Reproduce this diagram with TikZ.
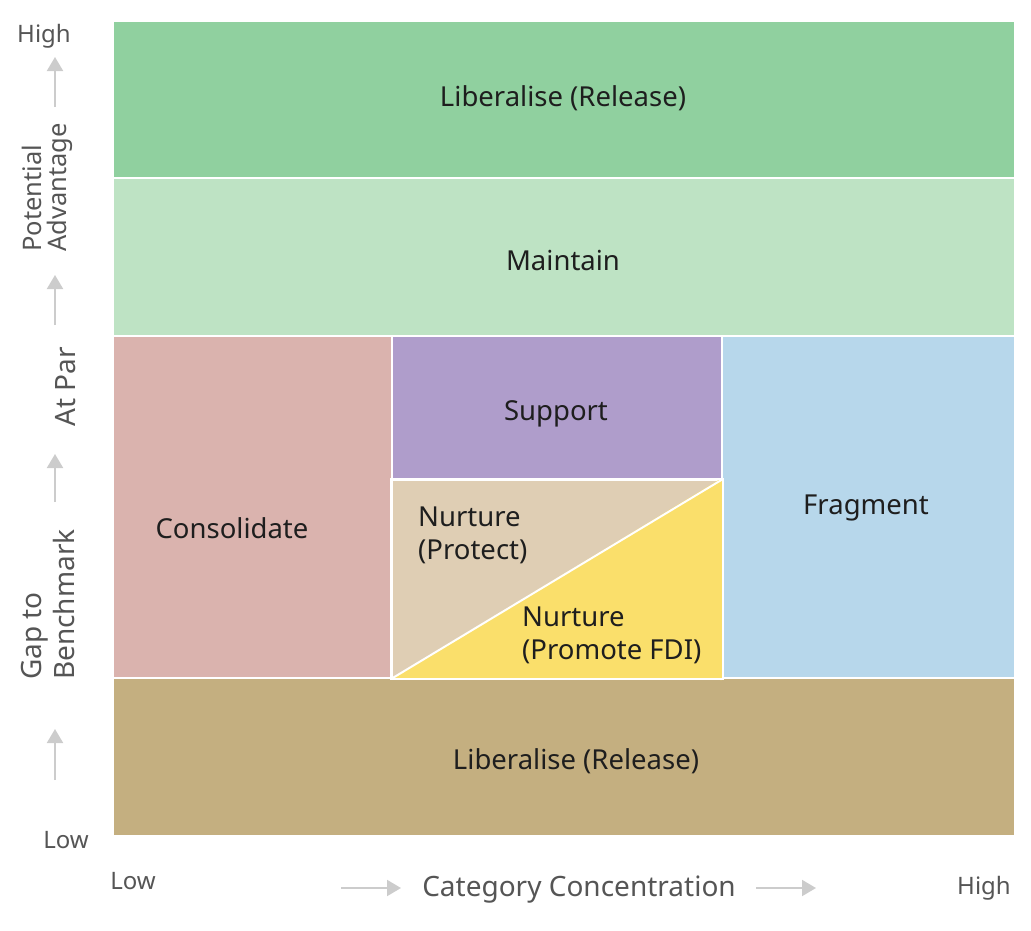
\documentclass[tikz,border=0pt]{standalone}
\usepackage{fontspec}
\setmainfont{Noto Sans}
\usetikzlibrary{arrows.meta}
\definecolor{cTop}{HTML}{90D09F}
\definecolor{cMaint}{HTML}{BEE3C4}
\definecolor{cCons}{HTML}{DAB3AE}
\definecolor{cSupp}{HTML}{AF9DCB}
\definecolor{cProt}{HTML}{DFCEB4}
\definecolor{cFDI}{HTML}{FADF6B}
\definecolor{cFrag}{HTML}{B7D7EB}
\definecolor{cBot}{HTML}{C4AF80}
\definecolor{cText}{HTML}{1E1E1E}
\definecolor{cAxis}{HTML}{555555}
\definecolor{cArr}{HTML}{CCCCCC}
\begin{document}
\begin{tikzpicture}[x=1pt,y=-1pt,
  region/.style={rectangle,draw=white,line width=2pt,anchor=north west,inner sep=0pt},
  lbl/.style={text=cText,font=\fontsize{27.5}{33}\selectfont,align=left,inner sep=0pt},
  axl/.style={text=cAxis,font=\fontsize{24}{29}\selectfont,inner sep=0pt},
  axarrow/.style={draw=cArr,line width=2pt,-{Triangle[width=16pt,length=14pt]}}]
\useasboundingbox (0,0) rectangle (1031,930);
% regions
\node[region,fill=cTop,minimum width=902pt,minimum height=158pt] (top) at (112,20) {};
\node[region,fill=cMaint,minimum width=902pt,minimum height=158pt] (maint) at (112,177) {};
\node[region,fill=cCons,minimum width=280pt,minimum height=342pt] (cons) at (112,335) {};
\node[region,fill=cSupp,minimum width=330pt,minimum height=145pt] (supp) at (391,335) {};
\node[region,fill=cProt,minimum width=330pt,minimum height=198pt] (prot) at (391,479) {};
\node[region,fill=cFrag,minimum width=293pt,minimum height=342pt] (frag) at (721,335) {};
\node[region,fill=cBot,minimum width=902pt,minimum height=158pt] (bot) at (112,677) {};
\fill[cFDI] ([shift={(1pt,1pt)}]prot.south west) -- ([shift={(-1pt,1pt)}]prot.north east) -- ([shift={(-1pt,-1pt)}]prot.south east) -- cycle;
\draw[white,line width=2pt] (prot.south west) -- (prot.north east);
\draw[white,line width=2pt] (prot.north west) rectangle (prot.south east);
% labels
\node[lbl] (ltop) at (563,98) {Liberalise (Release)};
\node[lbl] (lmaint) at (563,260) {Maintain};
\node[lbl] (lsupp) at (556,414) {Support};
\node[lbl] (lcons) at (232,528) {Consolidate};
\node[lbl] (lfrag) at (866,508) {Fragment};
\node[lbl,anchor=west] (lprot) at (418,535) {Nurture\\(Protect)};
\node[lbl,anchor=west] (lfdi) at (522,635) {Nurture\\(Promote FDI)};
\node[lbl] (lbot) at (576,761) {Liberalise (Release)};
% left axis
\node[axl] (yhigh) at (44,36) {High};
\node[axl] (ylow) at (66,840) {Low};
\node[axl,rotate=90,anchor=north west,align=left,font=\fontsize{25.5}{25}\selectfont] (ypot) at (22,252) {Potential\\Advantage};
\node[axl,rotate=90,font=\fontsize{28}{29}\selectfont] (ypar) at (66,387) {At Par};
\node[axl,rotate=90,anchor=north west,align=left,font=\fontsize{28}{33}\selectfont] (ygap) at (21,680) {Gap to\\Benchmark};
\coordinate (a1s) at (55,107); \coordinate (a1e) at (55,57);
\coordinate (a2s) at (55,325); \coordinate (a2e) at (55,275);
\coordinate (a3s) at (55,502); \coordinate (a3e) at (55,454);
\coordinate (a4s) at (55,780); \coordinate (a4e) at (55,729);
\draw[axarrow] (a1s) -- (a1e);
\draw[axarrow] (a2s) -- (a2e);
\draw[axarrow] (a3s) -- (a3e);
\draw[axarrow] (a4s) -- (a4e);
% bottom axis
\node[axl] (xlow) at (133,881) {Low};
\node[axl] (xhigh) at (984,888) {High};
\node[axl,font=\fontsize{28}{31}\selectfont] (xcat) at (579,890) {Category Concentration};
\coordinate (b1s) at (341,888); \coordinate (b1e) at (401,888);
\coordinate (b2s) at (756,888); \coordinate (b2e) at (816,888);
\draw[axarrow] (b1s) -- (b1e);
\draw[axarrow] (b2s) -- (b2e);
\end{tikzpicture}
\end{document}
